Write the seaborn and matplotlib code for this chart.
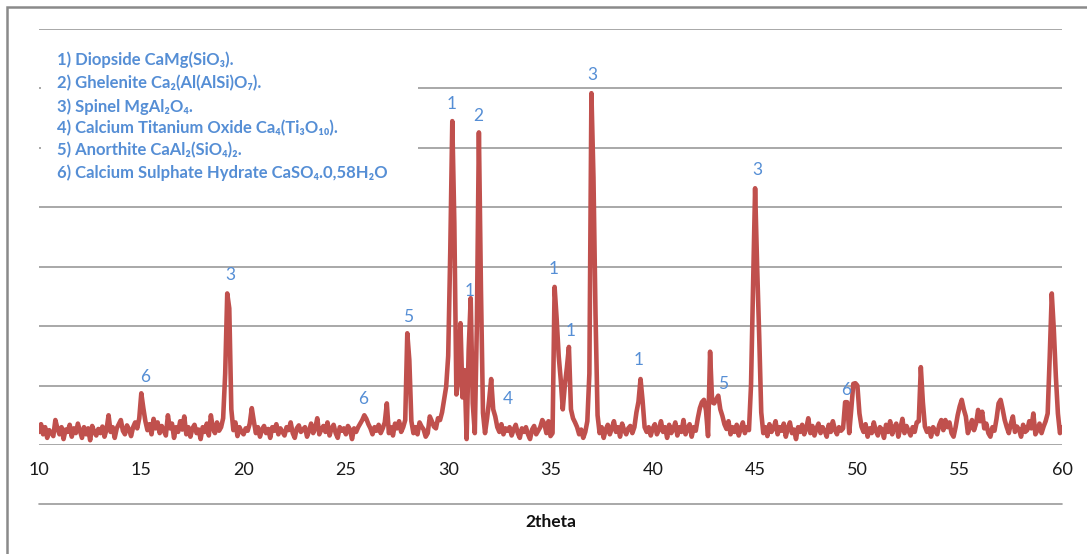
import numpy as np
import pandas as pd
import matplotlib
matplotlib.use("Agg")
import matplotlib.pyplot as plt
from matplotlib.patches import Rectangle
import seaborn as sns

# ---------------- data ----------------
two_theta_start = 10.0
two_theta_step = 0.1
# intensity, one row per degree (10.0-10.9, 11.0-11.9, ...), grid spacing = 100
intensity_rows = [
    [22, 35, 18, 30, 12, 25, 20, 15, 42, 28],        # 10
    [18, 30, 10, 26, 22, 34, 14, 28, 20, 36],        # 11
    [24, 12, 30, 18, 28, 8, 32, 22, 16, 27],         # 12
    [20, 31, 14, 26, 50, 22, 30, 12, 28, 35],        # 13
    [42, 24, 18, 33, 26, 15, 30, 38, 28, 45],        # 14
    [87, 62, 40, 25, 35, 18, 44, 28, 38, 20],        # 15
    [32, 24, 16, 50, 28, 36, 12, 30, 22, 40],        # 16
    [26, 48, 18, 30, 14, 28, 34, 20, 26, 10],        # 17
    [30, 22, 36, 16, 50, 28, 20, 38, 24, 30],        # 18
    [45, 120, 255, 230, 60, 25, 38, 15, 30, 22],     # 19
    [18, 28, 24, 36, 62, 40, 20, 30, 14, 26],        # 20
    [32, 20, 27, 12, 30, 24, 35, 18, 28, 22],        # 21
    [16, 30, 25, 38, 20, 12, 28, 33, 22, 26],        # 22
    [30, 14, 24, 36, 20, 28, 45, 18, 26, 32],        # 23
    [22, 38, 16, 28, 34, 20, 12, 30, 24, 28],        # 24
    [18, 32, 26, 10, 28, 22, 30, 36, 42, 50],        # 25
    [44, 35, 28, 18, 30, 24, 34, 20, 28, 38],        # 26
    [70, 20, 30, 16, 36, 28, 40, 22, 30, 42],        # 27
    [188, 143, 40, 20, 30, 18, 38, 31, 26, 14],      # 28
    [20, 48, 40, 31, 28, 45, 42, 55, 76, 98],        # 29
    [150, 324, 545, 373, 85, 110, 205, 80, 126, 10], # 30
    [160, 247, 70, 20, 200, 526, 264, 54, 20, 45],   # 31
    [75, 111, 60, 48, 30, 22, 35, 18, 28, 24],       # 32
    [30, 16, 26, 34, 20, 12, 28, 22, 30, 18],        # 33
    [10, 26, 32, 18, 24, 30, 42, 36, 20, 40],        # 34
    [15, 20, 266, 213, 150, 110, 60, 100, 130, 165], # 35
    [60, 45, 38, 30, 18, 26, 12, 22, 40, 120],       # 36
    [592, 450, 220, 50, 20, 30, 12, 26, 34, 18],     # 37
    [28, 40, 22, 30, 14, 36, 25, 18, 28, 32],        # 38
    [20, 30, 55, 73, 111, 75, 30, 22, 30, 16],       # 39
    [28, 35, 18, 26, 40, 22, 30, 12, 34, 20],        # 40
    [26, 38, 16, 30, 22, 42, 18, 28, 35, 14],        # 41
    [30, 24, 45, 62, 72, 76, 58, 15, 157, 72],       # 42
    [70, 77, 83, 60, 49, 35, 27, 40, 18, 30],        # 43
    [22, 34, 16, 28, 38, 20, 30, 25, 100, 268],      # 44
    [432, 300, 184, 55, 20, 30, 15, 35, 22, 28],     # 45
    [40, 18, 30, 24, 36, 14, 28, 38, 20, 26],        # 46
    [10, 30, 22, 34, 18, 28, 45, 20, 32, 16],        # 47
    [28, 36, 20, 30, 24, 14, 34, 22, 40, 26],        # 48
    [18, 30, 24, 28, 72, 72, 20, 60, 103, 104],      # 49
    [100, 53, 31, 22, 35, 14, 28, 20, 38, 24],       # 50
    [16, 30, 26, 12, 34, 22, 40, 18, 30, 36],        # 51
    [14, 28, 44, 20, 32, 24, 16, 30, 22, 38],        # 52
    [40, 131, 72, 31, 22, 28, 14, 30, 24, 18],       # 53
    [34, 42, 25, 42, 30, 38, 20, 14, 30, 50],        # 54
    [65, 76, 60, 48, 20, 30, 42, 25, 36, 59],        # 55
    [40, 56, 28, 36, 20, 14, 30, 24, 44, 70],        # 56
    [76, 60, 42, 30, 20, 36, 48, 22, 31, 26],        # 57
    [14, 34, 22, 25, 40, 28, 53, 18, 25, 36],        # 58
    [20, 31, 40, 53, 149, 255, 194, 115, 53, 20],    # 59
    [30],                                            # 60.0
]

x_ticks = [10, 15, 20, 25, 30, 35, 40, 45, 50, 55, 60]
x_label = "2theta"

phase_legend = [
    "1) Diopside CaMg(SiO\u2083).",
    "2) Ghelenite Ca\u2082(Al(AlSi)O\u2087).",
    "3) Spinel MgAl\u2082O\u2084.",
    "4) Calcium Titanium Oxide Ca\u2084(Ti\u2083O\u2081\u2080).",
    "5) Anorthite CaAl\u2082(SiO\u2084)\u2082.",
    "6) Calcium Sulphate Hydrate CaSO\u2084.0,58H\u2082O",
]

peak_labels = ["6", "3", "6", "5", "1", "2", "1", "4", "1", "1", "3", "1", "5", "3", "6"]
peak_label_x = [15.18, 19.34, 25.84, 28.04, 30.19, 31.46, 31.07, 32.92, 35.17, 36.0,
                37.03, 39.33, 43.43, 45.09, 49.44]
peak_label_y = [114, 286, 77, 215, 574, 554, 259, 77, 296, 192, 623, 143, 103, 463, 93]

# ---------------- build table ----------------
intensity = [v for row in intensity_rows for v in row]
two_theta = np.round(two_theta_start + two_theta_step * np.arange(len(intensity)), 2)
df = pd.DataFrame({"two_theta": two_theta, "intensity": intensity})

# ---------------- style ----------------
sns.set_theme(style="white")
plt.rcParams["font.family"] = ["Lato", "DejaVu Sans"]

W, H = 1087, 554
fig = plt.figure(figsize=(W / 100, H / 100), dpi=100)
ax = fig.add_axes([39 / W, (H - 445) / H, (1062 - 39) / W, (445 - 29) / H])

grid_color = "#9a9a9a"
line_color = "#C0504D"
blue = "#558ED5"

sns.lineplot(data=df, x="two_theta", y="intensity", ax=ax, color=line_color,
             linewidth=3.3, solid_joinstyle="round", solid_capstyle="round", zorder=3)

ax.set_xlim(10, 60)
ax.set_ylim(0, 700)
ax.set_yticks(np.arange(0, 701, 100))
ax.set_yticklabels([])
ax.yaxis.grid(True, color=grid_color, linewidth=1.2)
ax.xaxis.grid(False)
for s in ax.spines.values():
    s.set_visible(False)
ax.set_xticks(x_ticks)
ax.set_xticklabels([str(t) for t in x_ticks])
ax.tick_params(axis="x", length=0, pad=12, labelsize=13, labelcolor="#1a1a1a")
ax.tick_params(axis="y", length=0)
ax.set_xlabel(x_label, fontsize=12.5, fontweight="bold", color="#111111", labelpad=26)
ax.set_ylabel("")

# extra horizontal rule below the tick labels
ax.axhline(-100, color=grid_color, linewidth=1.2, clip_on=False)

# legend panel (white box hiding grid lines)
ax.add_patch(Rectangle((10.1, 420), 18.4, 262, facecolor="white", edgecolor="none", zorder=2))
leg_y = [648, 609, 570, 533, 496, 459]
for txt, yy in zip(phase_legend, leg_y):
    ax.text(10.88, yy, txt, color=blue, fontsize=12, fontweight="bold",
            ha="left", va="center", zorder=4)

for lab, xx, yy in zip(peak_labels, peak_label_x, peak_label_y):
    ax.text(xx, yy, lab, color=blue, fontsize=12.5, ha="center", va="center", zorder=4)

# outer chart border (left and top visible)
fig.add_artist(Rectangle((7 / W, -0.05), 1.2, 1.05 - 7 / H, transform=fig.transFigure,
                         fill=False, edgecolor="#8a8a8a", linewidth=1.8))

fig.savefig("out.png", dpi=100, facecolor="white")
